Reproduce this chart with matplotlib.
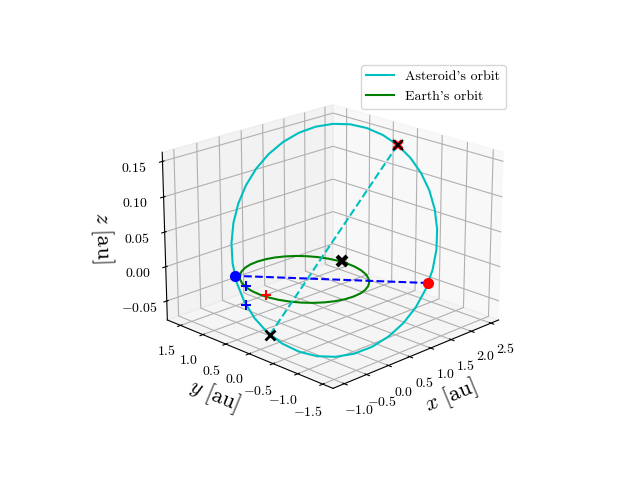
import matplotlib
matplotlib.use('Agg')
import matplotlib.pyplot as plt

plt.rcParams['font.family'] = ['cmr10', 'DejaVu Sans']
plt.rcParams['mathtext.fontset'] = 'cm'
plt.rcParams['axes.formatter.use_mathtext'] = True

# asteroid orbit
ast_x = [2.474, 2.471, 2.417, 2.314, 2.163, 1.969, 1.740, 1.481, 1.200, 0.907, 0.610, 0.317,
         0.038, -0.219, -0.445, -0.635, -0.781, -0.881, -0.930, -0.927, -0.873, -0.770, -0.619, -0.425,
         -0.196, 0.063, 0.344, 0.637, 0.934, 1.227, 1.506, 1.763, 1.989, 2.179, 2.325, 2.425, 2.474]
ast_y = [0.220, -0.050, -0.316, -0.570, -0.805, -1.014, -1.189, -1.327, -1.422, -1.472, -1.474, -1.430,
         -1.341, -1.209, -1.037, -0.833, -0.601, -0.348, -0.083, 0.187, 0.453, 0.707, 0.942, 1.151,
         1.326, 1.464, 1.559, 1.609, 1.611, 1.567, 1.478, 1.346, 1.174, 0.970, 0.738, 0.485, 0.220]
ast_z = [0.138, 0.125, 0.1095, 0.092, 0.0731, 0.0531, 0.0329, 0.0129, -0.0062, -0.0238, -0.0394, -0.0525,
         -0.0627, -0.0697, -0.0733, -0.0734, -0.0699, -0.063, -0.053, -0.040, -0.0245, -0.007, 0.0119, 0.0319,
         0.0521, 0.0721, 0.0912, 0.1088, 0.1244, 0.1375, 0.1477, 0.1547, 0.1583, 0.1584, 0.1549, 0.148, 0.138]

earth_x = [1.0, 0.985, 0.940, 0.866, 0.766, 0.643, 0.5, 0.342, 0.174, 0.0, -0.174, -0.342,
           -0.5, -0.643, -0.766, -0.866, -0.940, -0.985, -1.0, -0.985, -0.940, -0.866, -0.766, -0.643,
           -0.5, -0.342, -0.174, 0.0, 0.174, 0.342, 0.5, 0.643, 0.766, 0.866, 0.940, 0.985, 1.0]
earth_y = [0.0, 0.174, 0.342, 0.5, 0.643, 0.766, 0.866, 0.940, 0.985, 1.0, 0.985, 0.940,
           0.866, 0.766, 0.643, 0.5, 0.342, 0.174, 0.0, -0.174, -0.342, -0.5, -0.643, -0.766,
           -0.866, -0.940, -0.985, -1.0, -0.985, -0.940, -0.866, -0.766, -0.643, -0.5, -0.342, -0.174, 0.0]
earth_z = [0.0] * len(earth_x)

aph = (2.474, 0.220, 0.138)
per = (-0.90, -0.103, -0.057)
node_red = (1.298, -1.395, 0.0)
node_blue = (-0.717, 0.799, 0.0)
earth_now = (1.02, 0.125, 0.0)
red_plus = (-0.945, -0.07, 0.0)
blue_plus_1 = (-0.892, 0.398, 0.0)
blue_plus_2 = (-0.92, 0.38, -0.027)

x_ticks = [-1.0, -0.5, 0.0, 0.5, 1.0, 1.5, 2.0, 2.5]
y_ticks = [-1.5, -1.0, -0.5, 0.0, 0.5, 1.0, 1.5]
z_ticks = [-0.05, 0.0, 0.05, 0.10, 0.15]

fig = plt.figure(figsize=(6.4, 4.8), dpi=100)
ax = fig.add_subplot(projection='3d')
ax.view_init(elev=20, azim=-135)

ax.plot(ast_x, ast_y, ast_z, color='c', label="Asteroid's orbit")
ax.plot(earth_x, earth_y, earth_z, color='g', label="Earth's orbit")
ax.plot([aph[0], per[0]], [aph[1], per[1]], [aph[2], per[2]], 'c--')
ax.plot([node_red[0], node_blue[0]], [node_red[1], node_blue[1]], [node_red[2], node_blue[2]], 'b--')

ax.plot(*[[v] for v in node_red], 'o', color='r', ms=7)
ax.plot(*[[v] for v in node_blue], 'o', color='b', ms=7)
ax.plot(*[[v] for v in aph], 'x', color='r', ms=6, mew=3)
ax.plot(*[[v] for v in aph], 'x', color='k', ms=7, mew=1.5)
ax.plot(*[[v] for v in per], 'x', color='k', ms=7, mew=2)
ax.plot(*[[v] for v in earth_now], 'x', color='k', ms=7, mew=3)
ax.plot(*[[v] for v in red_plus], '+', color='r', ms=7, mew=1.5)
ax.plot(*[[v] for v in blue_plus_1], '+', color='b', ms=7, mew=1.5)
ax.plot(*[[v] for v in blue_plus_2], '+', color='b', ms=7, mew=1.5)

ax.set_xlim(-1.25, 2.7)
ax.set_ylim(-1.7, 1.8)
ax.set_zlim(-0.078, 0.1627)
ax.set_xticks(x_ticks)
ax.set_xticklabels(['$%.1f$' % v for v in x_ticks])
ax.set_yticks(y_ticks)
ax.set_yticklabels(['$%.1f$' % v for v in y_ticks])
ax.set_zticks(z_ticks)
ax.set_zticklabels(['$%.2f$' % v for v in z_ticks])

ax.set_xlabel(r'$x\ \mathrm{[au]}$', fontsize=16)
ax.set_ylabel(r'$y\ \mathrm{[au]}$', fontsize=16)
ax.set_zlabel(r'$z\ \mathrm{[au]}$', fontsize=16, labelpad=4.7)

ax.legend(loc='upper right', bbox_to_anchor=(0.801, 0.879), bbox_transform=fig.transFigure)
fig.savefig('out.png', dpi=100)
